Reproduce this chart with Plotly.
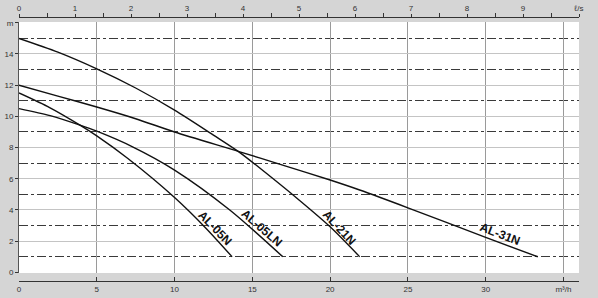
import plotly.graph_objects as go

# Flow (m3/h) and head (m) for each pump curve
al05n_q = [0, 2, 3.92, 5, 7, 10, 12, 13.7]
al05n_h = [11.5, 10.55, 9.44, 8.75, 7.3, 4.8, 2.85, 1.0]

al05ln_q = [0, 2, 3.92, 5, 7.3, 10, 13.55, 16.96]
al05ln_h = [10.5, 10.05, 9.44, 9.05, 8.05, 6.56, 4.0, 1.0]

al21n_q = [0, 2.5, 5, 7.5, 10, 12.5, 14.2, 16, 18, 20, 21.9]
al21n_h = [15.0, 14.12, 13.05, 11.82, 10.4, 8.8, 7.68, 6.27, 4.64, 2.92, 1.0]

al31n_q = [0, 2.5, 5, 7.5, 10, 14.2, 17, 20, 21.9, 25, 30, 33.35]
al31n_h = [12.0, 11.3, 10.6, 9.85, 9.0, 7.73, 6.86, 5.92, 5.28, 4.14, 2.24, 1.0]

series = [
    ("AL-05N", al05n_q, al05n_h),
    ("AL-05LN", al05ln_q, al05ln_h),
    ("AL-21N", al21n_q, al21n_h),
    ("AL-31N", al31n_q, al31n_h),
]

# label positions (m3/h, m) and angles
label_names = ["AL-05N", "AL-05LN", "AL-21N", "AL-31N"]
label_q = [12.6, 15.6, 20.6, 30.9]
label_h = [2.84, 2.84, 2.84, 2.45]
label_angle = [46, 41, 47, 21]

bottom_ticks = [0, 5, 10, 15, 20, 25, 30, 35]
bottom_labels = ["0", "5", "10", "15", "20", "25", "30", "m³/h"]
top_ticks = [0, 1, 2, 3, 4, 5, 6, 7, 8, 9, 10]
top_labels = ["0", "1", "2", "3", "4", "5", "6", "7", "8", "9", "ℓ/s"]
left_ticks = [0, 2, 4, 6, 8, 10, 12, 14, 16]
left_labels = ["0", "2", "4", "6", "8", "10", "12", "14", "m"]

fig = go.Figure()
for name, q, h in series:
    fig.add_trace(go.Scatter(x=q, y=h, mode="lines", name=name,
                             line=dict(color="#111111", width=1.4, shape="spline", smoothing=0.8),
                             showlegend=False, hoverinfo="skip"))
# invisible trace for top axis
fig.add_trace(go.Scatter(x=[0, 10], y=[0, 0], xaxis="x2", yaxis="y", mode="markers",
                         marker=dict(opacity=0), showlegend=False, hoverinfo="skip"))

for n, q, h, a in zip(label_names, label_q, label_h, label_angle):
    fig.add_annotation(x=q, y=h, text="<b>" + n + "</b>", showarrow=False, textangle=a,
                       font=dict(family="Liberation Sans, Arial", size=12, color="#111111"))

tickfont = dict(family="Liberation Sans, Arial", size=8, color="#333333")

fig.update_layout(
    width=598, height=298,
    margin=dict(l=19, r=19, t=17, b=17, autoexpand=False),
    paper_bgcolor="#d5d5d5",
    plot_bgcolor="#ffffff",
    xaxis=dict(range=[0, 36], domain=[0, 1], anchor="free", position=0, automargin=False,
               tickvals=bottom_ticks, ticktext=bottom_labels,
               ticks="inside", ticklen=4, tickcolor="#333333",
               showline=True, linecolor="#333333", linewidth=1,
               showgrid=True, gridcolor="#9a9a9a", gridwidth=1,
               zeroline=False, tickfont=tickfont, fixedrange=True),
    xaxis2=dict(range=[0, 10], overlaying="x", side="top", anchor="free", position=1,
                automargin=False,
                tickvals=top_ticks, ticktext=top_labels,
                ticks="outside", ticklen=3, tickcolor="#333333",
                minor=dict(tickvals=[0.5 + i for i in range(10)], ticks="outside", ticklen=4,
                           tickcolor="#333333", showgrid=False),
                showline=True, linecolor="#333333", linewidth=1,
                showgrid=False, zeroline=False, tickfont=tickfont, fixedrange=True),
    yaxis=dict(range=[-0.04, 16.05], domain=[0.0303, 0.981], automargin=False,
               tickvals=left_ticks, ticktext=left_labels,
               ticks="outside", ticklen=3, tickcolor="#333333",
               showline=True, linecolor="#555555", linewidth=1,
               showgrid=True, gridcolor="#c4c4c4", gridwidth=1,
               minor=dict(tickvals=[1, 3, 5, 7, 9, 11, 13, 15], showgrid=True,
                          gridcolor="#3a3a3a", gridwidth=1, griddash="dashdot", ticks=""),
               zeroline=False, tickfont=tickfont, fixedrange=True),
)

fig.write_html("out.html")
